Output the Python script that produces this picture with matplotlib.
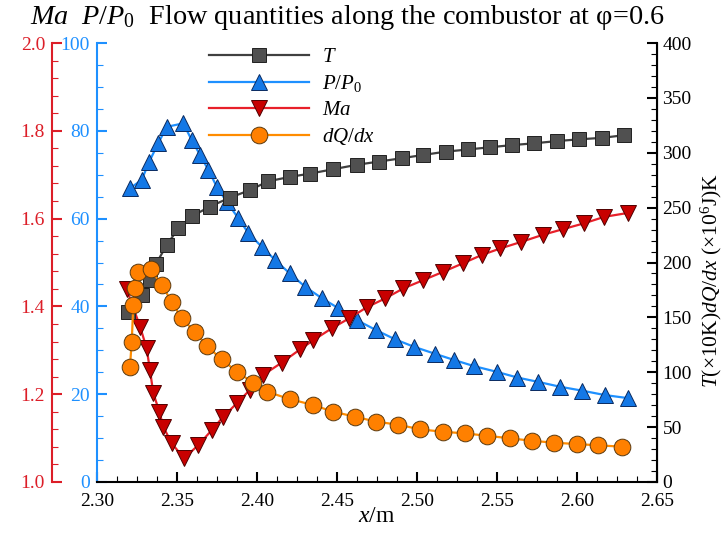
# flow quantities along the combustor, 3 y-axes
import matplotlib
matplotlib.use("Agg")
import matplotlib.pyplot as plt
from matplotlib.ticker import MultipleLocator

plt.rcParams['font.family'] = ['Liberation Serif', 'DejaVu Serif']
plt.rcParams['mathtext.fontset'] = 'custom'
plt.rcParams['mathtext.rm'] = 'Liberation Serif'
plt.rcParams['mathtext.it'] = 'Liberation Serif:italic'

# data
x_T = [2.3196, 2.3280, 2.3330, 2.3370, 2.3436, 2.3508, 2.3592, 2.3706, 2.3830,
       2.3956, 2.4070, 2.4206, 2.4331, 2.4477, 2.4623, 2.4763, 2.4904, 2.5039,
       2.5179, 2.5321, 2.5456, 2.5596, 2.5733, 2.5878, 2.6012, 2.6158, 2.6296]
T = [155, 170, 184, 199, 216, 231, 242, 251, 259, 266, 274, 278, 281, 285, 289,
     292, 295, 298, 301, 303, 305, 307, 308.6, 310.7, 312.2, 313.6, 316]

x_P = [2.3206, 2.3279, 2.3327, 2.3383, 2.3436, 2.3539, 2.3592, 2.3644, 2.3696,
       2.3748, 2.3811, 2.3883, 2.3946, 2.4029, 2.4115, 2.4205, 2.4300, 2.4404,
       2.4508, 2.4623, 2.4744, 2.4863, 2.4981, 2.5113, 2.5231, 2.5356, 2.5498,
       2.5627, 2.5758, 2.5894, 2.6033, 2.6175, 2.6320]
P = [66.9, 68.8, 73.0, 77.2, 80.9, 81.7, 77.9, 74.5, 71.1, 67.3, 63.8, 60.1,
     56.7, 53.6, 50.5, 47.5, 44.5, 41.9, 39.6, 36.9, 34.6, 32.5, 30.8, 29.2,
     27.8, 26.4, 25.1, 23.8, 22.8, 21.7, 20.8, 19.8, 19.1]

x_Ma = [2.3186, 2.3269, 2.3310, 2.3331, 2.3352, 2.3390, 2.3414, 2.3467, 2.3544,
        2.3633, 2.3717, 2.3790, 2.3873, 2.3956, 2.4039, 2.4155, 2.4269, 2.4352,
        2.4467, 2.4577, 2.4686, 2.4800, 2.4915, 2.5040, 2.5165, 2.5286, 2.5404,
        2.5521, 2.5652, 2.5786, 2.5913, 2.6042, 2.6171, 2.6320]
Ma = [1.439, 1.354, 1.305, 1.255, 1.202, 1.160, 1.126, 1.088, 1.054, 1.084,
      1.118, 1.149, 1.179, 1.210, 1.244, 1.272, 1.302, 1.323, 1.350, 1.373,
      1.398, 1.418, 1.441, 1.460, 1.479, 1.498, 1.517, 1.532, 1.547, 1.563,
      1.576, 1.589, 1.604, 1.613]

x_dQ = [2.3206, 2.3217, 2.3227, 2.3238, 2.3258, 2.3336, 2.3404, 2.3467, 2.3529,
        2.3613, 2.3686, 2.3779, 2.3873, 2.3977, 2.4061, 2.4206, 2.4352, 2.4477,
        2.4613, 2.4744, 2.4883, 2.5019, 2.5160, 2.5300, 2.5439, 2.5581, 2.5717,
        2.5856, 2.5998, 2.6133, 2.6279]
dQ = [105, 127.8, 161.2, 176.5, 191.6, 193.8, 179.5, 164.3, 149.1, 136.9,
      123.9, 111.8, 100.5, 90.4, 82.3, 75.5, 70.1, 64.0, 59.5, 55.0, 52.2, 48.0,
      45.8, 44.3, 42.1, 39.8, 37.6, 35.8, 34.6, 33.4, 32.2]

red = '#dc1e28'
blue = '#1e90ff'

fig = plt.figure(figsize=(7.24, 5.34), dpi=100)
ax = fig.add_axes([97 / 724, 52 / 534, 560 / 724, 439 / 534])   # P/P0 axis
ax_ma = ax.twinx()
ax_t = ax.twinx()

# P/P0 on the inner left axis
lp, = ax.plot(x_P, P, color=blue, lw=1.6, marker='^', ms=11,
              mfc='#1478e6', mec='#0a2a60', mew=0.7, label=r'$P/P_0$')
ax.set_xlim(2.30, 2.65)
ax.set_ylim(0, 100)
ax.xaxis.set_major_locator(MultipleLocator(0.05))
ax.xaxis.set_minor_locator(MultipleLocator(0.0125))
ax.yaxis.set_major_locator(MultipleLocator(20))
ax.yaxis.set_minor_locator(MultipleLocator(5))
ax.spines['top'].set_visible(False)
ax.spines['left'].set_color(blue)
ax.spines['left'].set_linewidth(1.5)
ax.spines['bottom'].set_linewidth(1.5)
ax.tick_params(axis='y', which='both', direction='in', colors=blue, labelsize=14, pad=5)
ax.tick_params(axis='x', which='both', direction='in', labelsize=14, pad=8)
ax.tick_params(which='major', length=7, width=1.5)
ax.tick_params(which='minor', length=4, width=0.8)
ax.set_xticklabels(['%.2f' % v for v in ax.get_xticks()])
ax.set_xlabel(r'$x$/m', fontsize=17, labelpad=-3)

# Ma on the outer left axis
lm, = ax_ma.plot(x_Ma, Ma, color='#e8202a', lw=1.6, marker='v', ms=11,
                 mfc='#c80000', mec='#500000', mew=0.7, label=r'$Ma$')
ax_ma.set_ylim(1.0, 2.0)
ax_ma.yaxis.set_ticks_position('left')
ax_ma.yaxis.set_label_position('left')
for s in ['right', 'top', 'bottom']:
    ax_ma.spines[s].set_visible(False)
ax_ma.spines['left'].set_visible(True)
ax_ma.spines['left'].set_position(('outward', 32.4))   # 45 px at 100 dpi
ax_ma.spines['left'].set_color(red)
ax_ma.spines['left'].set_linewidth(1.5)
ax_ma.yaxis.set_major_locator(MultipleLocator(0.2))
ax_ma.yaxis.set_minor_locator(MultipleLocator(0.04))
ax_ma.set_yticklabels(['%.1f' % v for v in ax_ma.get_yticks()])
ax_ma.tick_params(axis='y', which='both', direction='in', colors=red, labelsize=14, pad=5)
ax_ma.tick_params(which='major', length=7, width=1.5)
ax_ma.tick_params(which='minor', length=4, width=0.8)

# T and dQ/dx on the right axis
lt, = ax_t.plot(x_T, T, color='#404040', lw=1.6, marker='s', ms=10,
                mfc='#505050', mec='#202020', mew=0.7, label=r'$T$')
lq, = ax_t.plot(x_dQ, dQ, color='#ff8c00', lw=1.6, marker='o', ms=12,
                mfc='#ff8000', mec='#5a3a10', mew=0.7, label=r'$dQ/dx$')
ax_t.set_ylim(0, 400)
ax_t.yaxis.set_major_locator(MultipleLocator(50))
ax_t.yaxis.set_minor_locator(MultipleLocator(10))
for s in ['left', 'top', 'bottom']:
    ax_t.spines[s].set_visible(False)
ax_t.spines['right'].set_linewidth(1.5)
ax_t.tick_params(axis='y', which='both', direction='in', labelsize=14, pad=4)
ax_t.tick_params(which='major', length=7, width=1.5)
ax_t.tick_params(which='minor', length=4, width=0.8)
ax_t.set_ylabel(r'$T$(×10K)$dQ/dx$ (×10$^6$J)K', fontsize=15.5)
ax_t.yaxis.set_label_coords(1.074, 0.46)

ax_t.legend([lt, lp, lm, lq], [r'$T$', r'$P/P_0$', r'$Ma$', r'$dQ/dx$'],
            loc='upper left', bbox_to_anchor=(0.2, 0.99), frameon=False,
            fontsize=15, handlelength=4.8, handletextpad=0.6, labelspacing=0.3,
            borderpad=0, borderaxespad=0)

fig.text(30 / 724, 1 - 18 / 534, r'$Ma\ \ P/P_0$  Flow quantities along the combustor at φ=0.6',
         fontsize=20.3, ha='left', va='center')

fig.savefig('out.png', dpi=100)
